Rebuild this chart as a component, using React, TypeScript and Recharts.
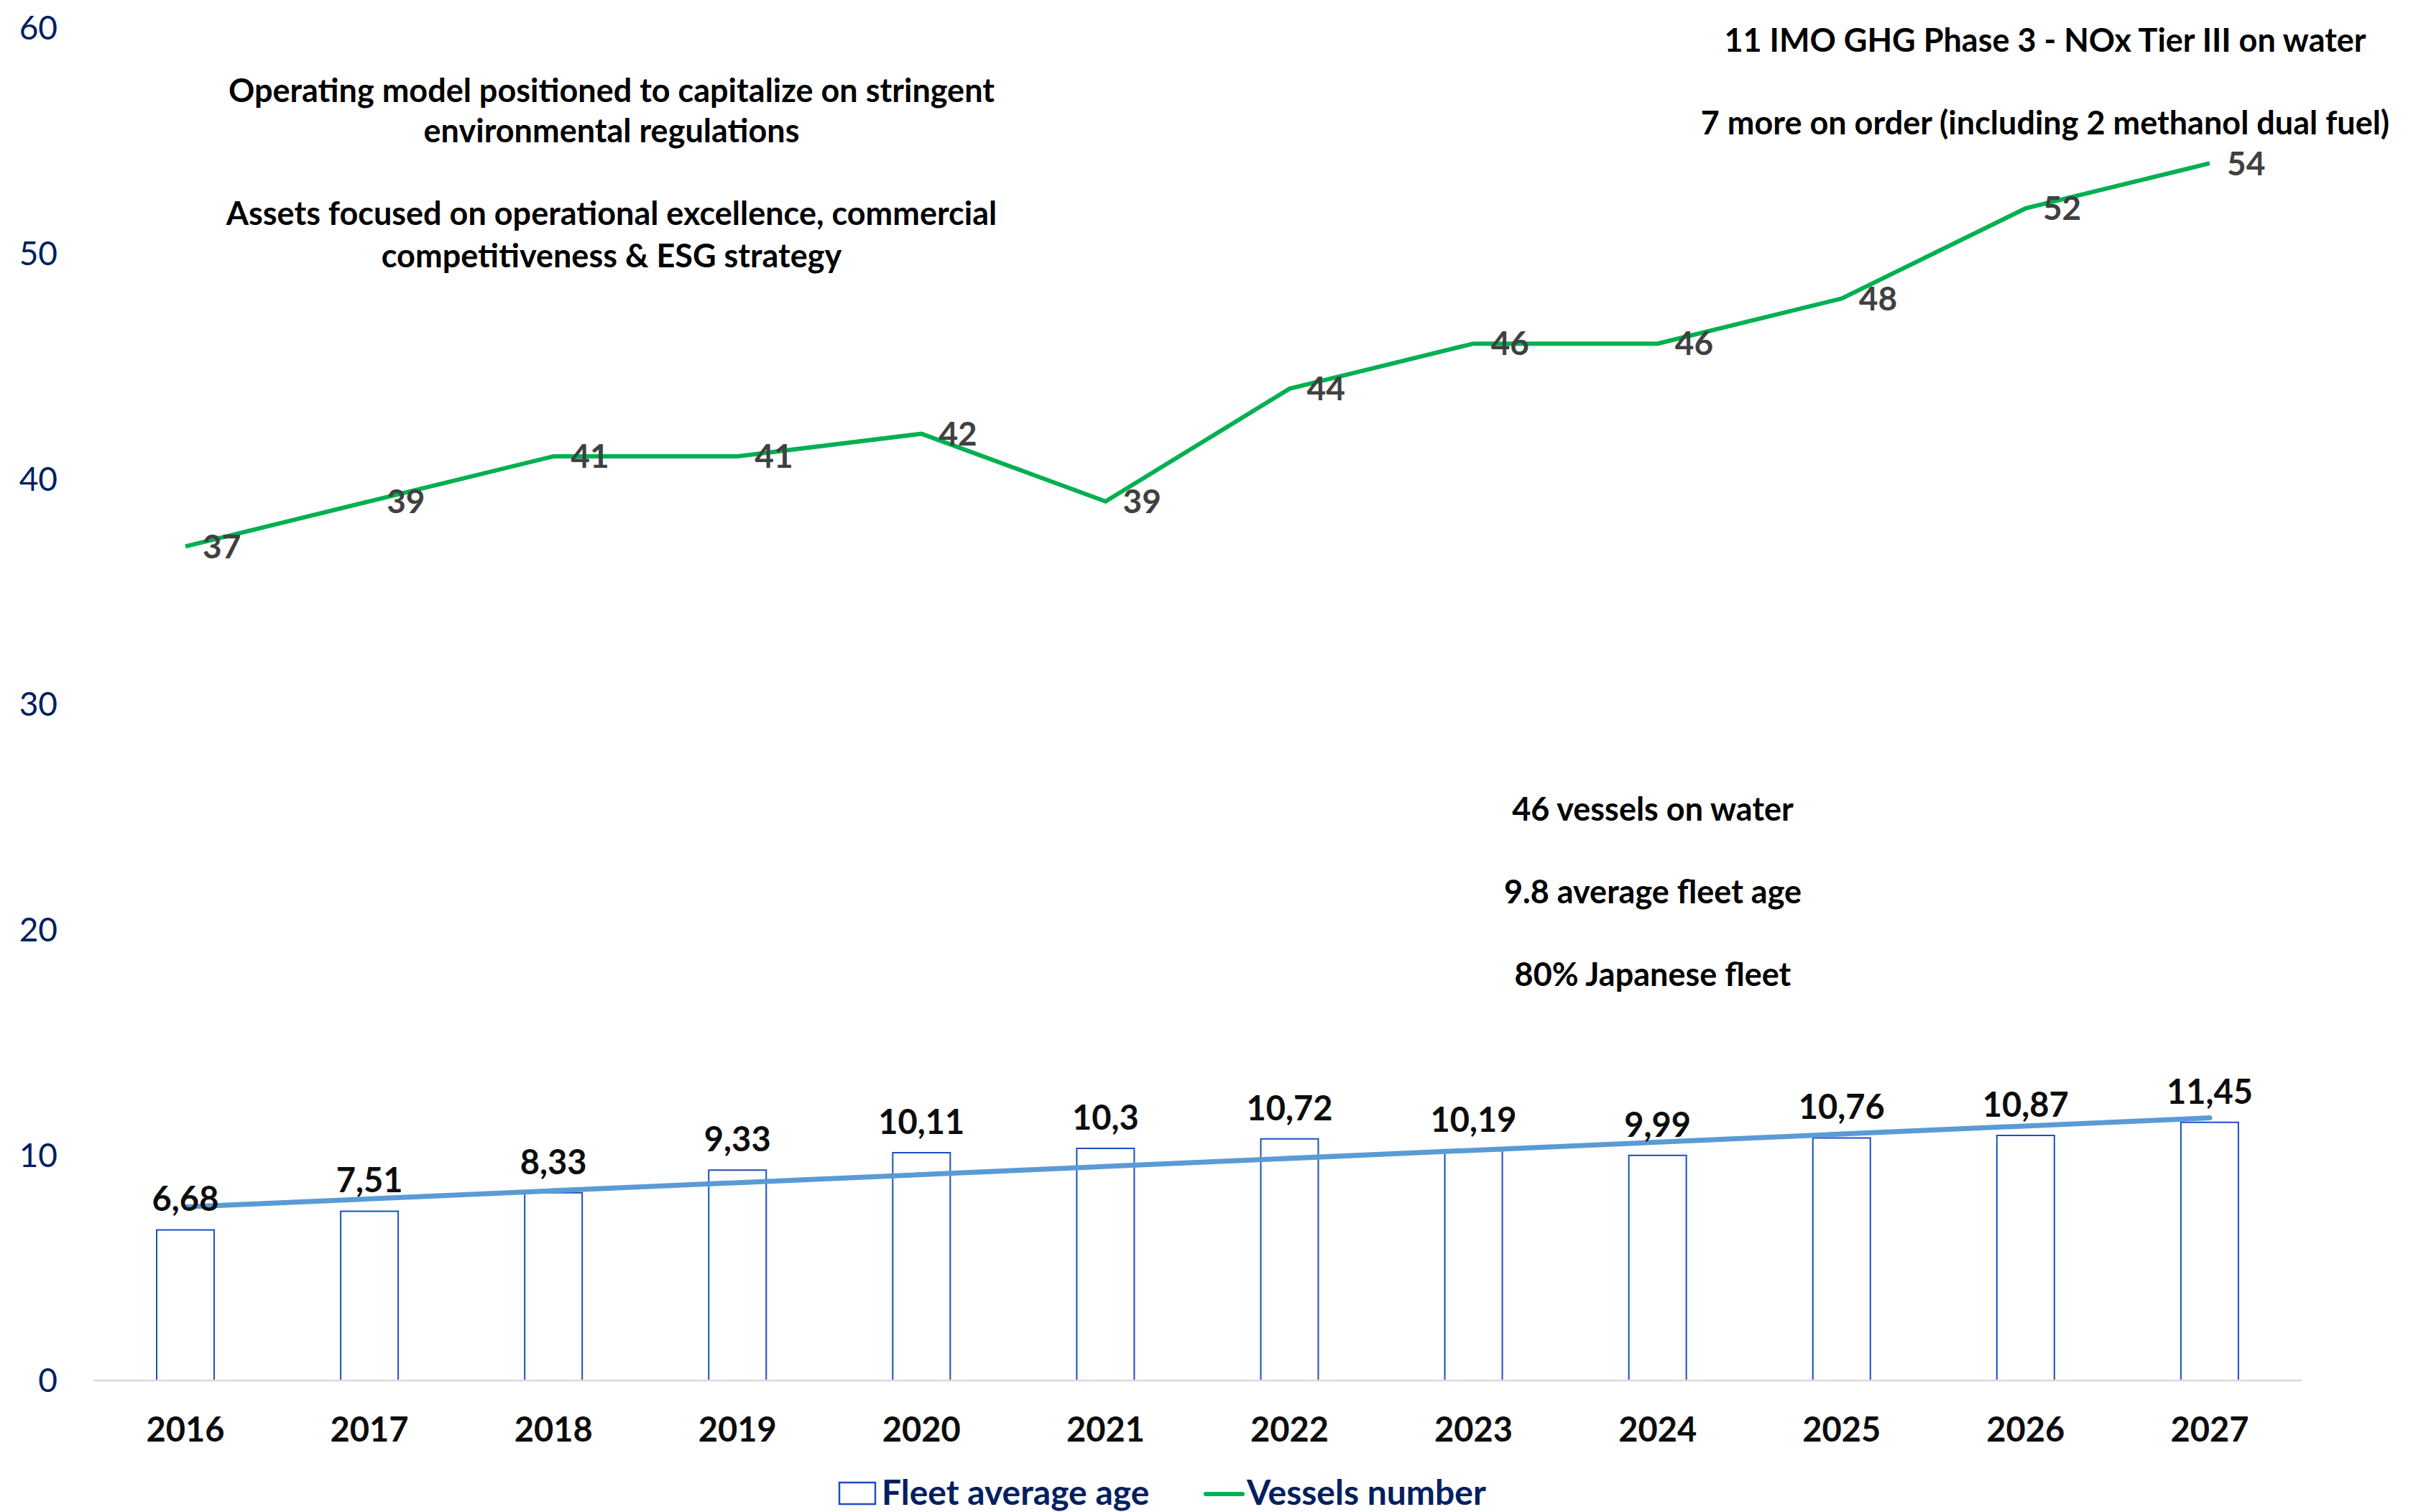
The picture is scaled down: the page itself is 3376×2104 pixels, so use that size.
import React from "react"
import { ComposedChart, Bar, Line, XAxis, YAxis, LabelList, Legend } from "recharts"

const years = ["2016", "2017", "2018", "2019", "2020", "2021", "2022", "2023", "2024", "2025", "2026", "2027"]
const fleetAge = [6.68, 7.51, 8.33, 9.33, 10.11, 10.3, 10.72, 10.19, 9.99, 10.76, 10.87, 11.45]
const vesselsNumber = [37, 39, 41, 41, 42, 39, 44, 46, 46, 48, 52, 54]
// linear trendline on fleet age, ends
const ageTrend = [7.7, null, null, null, null, null, null, null, null, null, null, 11.65]
const yTicks = [0, 10, 20, 30, 40, 50, 60]

const notesTopLeft = [
  "Operating model positioned to capitalize on stringent",
  "environmental regulations",
  "Assets focused on operational excellence, commercial",
  "competitiveness & ESG strategy",
]
const notesTopRight = [
  "11 IMO GHG Phase 3 - NOx Tier III on water",
  "7 more on order (including 2 methanol dual fuel)",
]
const notesMiddle = ["46 vessels on water", "9.8 average fleet age", "80% Japanese fleet"]

const W = 3376
const H = 2104
const FONT = "Lato, 'Open Sans', sans-serif"
const NAVY = "#002060"
const BAR_BLUE = "#1C4FC4"
const GREEN = "#00B050"

const data = years.map((year, i) => ({
  year,
  age: fleetAge[i],
  vessels: vesselsNumber[i],
  trend: ageTrend[i],
}))

const commaDecimal = (v: any) => String(v).replace(".", ",")

function LegendContent() {
  return (
    <svg width={W} height={60} style={{ display: "block" }}>
      <rect x={1168} y={19} width={50} height={30} fill="#fff" stroke={BAR_BLUE} strokeWidth={2.5} />
      <text x={1227} y={50} fontSize={48} fontWeight={700} fill={NAVY}>Fleet average age</text>
      <line x1={1678} x2={1729} y1={35} y2={35} stroke={GREEN} strokeWidth={6} strokeLinecap="round" />
      <text x={1735} y={50} fontSize={48} fontWeight={700} fill={NAVY}>Vessels number</text>
    </svg>
  )
}

function Notes() {
  const style = { fontSize: 45, fontWeight: 700, fill: "#000" } as const
  return (
    <svg
      width={W}
      height={H}
      style={{ position: "absolute", left: 0, top: 0, pointerEvents: "none" }}
    >
      {notesTopLeft.map((t, i) => (
        <text key={t} x={851} y={[142, 198, 313, 372][i]} textAnchor="middle" {...style}>{t}</text>
      ))}
      {notesTopRight.map((t, i) => (
        <text key={t} x={2846} y={[72, 187][i]} textAnchor="middle" {...style}>{t}</text>
      ))}
      {notesMiddle.map((t, i) => (
        <text key={t} x={2300} y={1142 + i * 115} textAnchor="middle" {...style}>{t}</text>
      ))}
    </svg>
  )
}

export default function App() {
  return (
    <div
      style={{
        position: "absolute",
        left: 0,
        top: 0,
        width: W,
        height: H,
        background: "#fff",
        fontFamily: FONT,
      }}
    >
      <ComposedChart
        width={W}
        height={H}
        data={data}
        margin={{ top: 39, right: 173, bottom: 0, left: 0 }}
      >
        <XAxis
          dataKey="year"
          height={123}
          tickLine={false}
          tickSize={0}
          tickMargin={52}
          axisLine={{ stroke: "#D9D9D9", strokeWidth: 2.5 }}
          tick={{ fill: "#0D0D0D", fontSize: 47, fontWeight: 700 }}
          interval={0}
        />
        <YAxis
          domain={[0, 60]}
          ticks={yTicks}
          interval={0}
          width={130}
          axisLine={false}
          tickLine={false}
          tickSize={0}
          tickMargin={50}
          tick={{ fill: NAVY, fontSize: 46 }}
        />
        <Legend
          verticalAlign="bottom"
          content={() => <LegendContent />}
          wrapperStyle={{ left: 0, bottom: 0, width: W, height: 60 }}
        />
        <Bar
          dataKey="age"
          name="Fleet average age"
          barSize={80}
          fill="#fff"
          stroke={BAR_BLUE}
          strokeWidth={2}
          isAnimationActive={false}
        >
          <LabelList
            dataKey="age"
            position="top"
            offset={26}
            formatter={commaDecimal}
            fill="#0D0D0D"
            fontSize={47}
            fontWeight={700}
          />
        </Bar>
        <Line
          dataKey="trend"
          type="linear"
          stroke="#5B9BD5"
          strokeWidth={7}
          strokeLinecap="round"
          dot={false}
          activeDot={false}
          connectNulls
          legendType="none"
          isAnimationActive={false}
        />
        <Line
          dataKey="vessels"
          name="Vessels number"
          type="linear"
          stroke={GREEN}
          strokeWidth={6}
          dot={false}
          activeDot={false}
          isAnimationActive={false}
        >
          <LabelList
            dataKey="vessels"
            position="right"
            offset={24}
            fill="#404040"
            fontSize={46}
            fontWeight={700}
          />
        </Line>
      </ComposedChart>
      <Notes />
    </div>
  )
}
